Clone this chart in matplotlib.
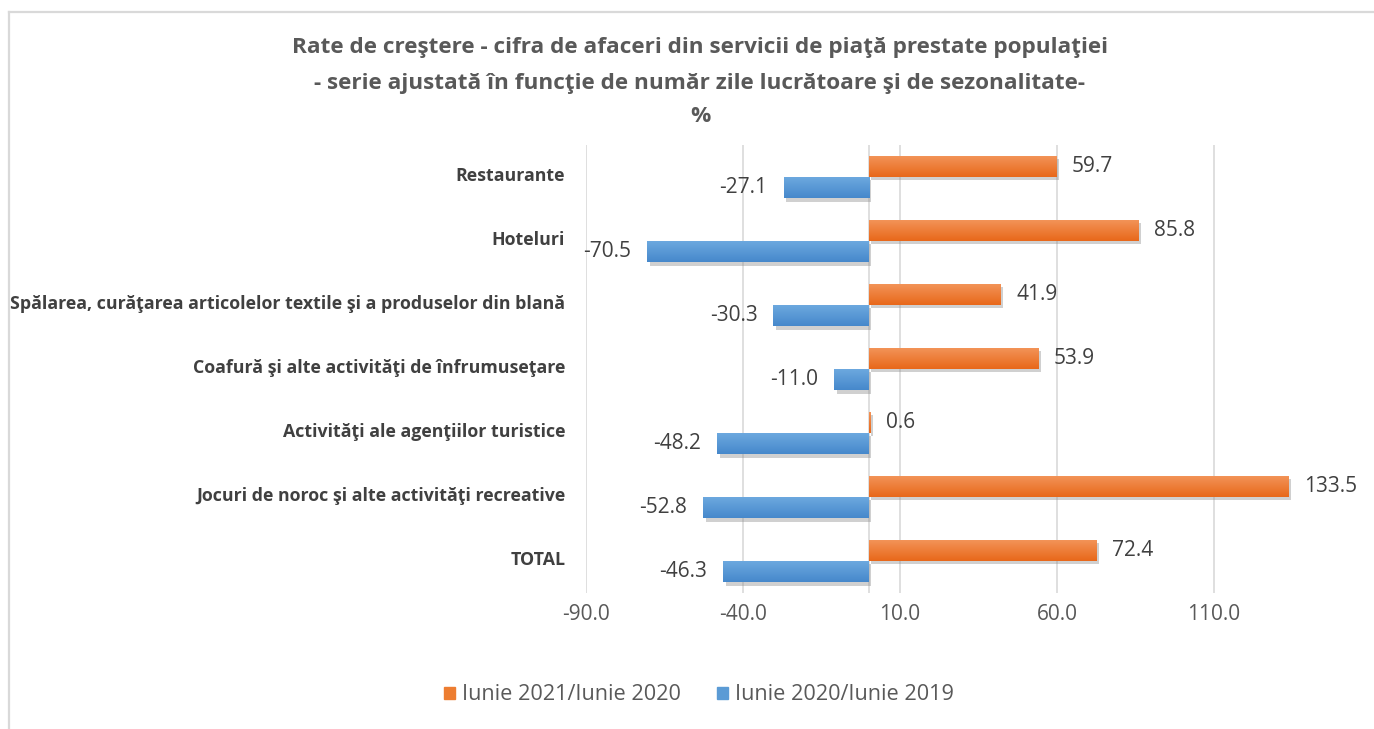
import matplotlib
matplotlib.use("Agg")
import matplotlib.pyplot as plt
import matplotlib.patheffects as pe
from matplotlib.lines import Line2D
from matplotlib.colors import LinearSegmentedColormap
import numpy as np

plt.rcParams['font.family'] = ['Open Sans', 'DejaVu Sans']

categories = [
    "Restaurante",
    "Hoteluri",
    "Spălarea, curăţarea articolelor textile şi a produselor din blană",
    "Coafură şi alte activităţi de înfrumuseţare",
    "Activităţi ale agenţiilor turistice",
    "Jocuri de noroc şi alte activităţi recreative",
    "TOTAL",
]
series_2021 = [59.7, 85.8, 41.9, 53.9, 0.6, 133.5, 72.4]
series_2020 = [-27.1, -70.5, -30.3, -11.0, -48.2, -52.8, -46.3]
legend_labels = ["Iunie 2021/Iunie 2020", "Iunie 2020/Iunie 2019"]
x_ticks = [-90.0, -40.0, 10.0, 60.0, 110.0]
title_lines = [
    "Rate de creştere - cifra de afaceri din servicii de piaţă prestate populaţiei",
    "- serie ajustată în funcţie de număr zile lucrătoare şi de sezonalitate-",
    "%",
]

W, H = 1374, 729
fig = plt.figure(figsize=(W / 100, H / 100), dpi=100)
fig.patch.set_facecolor("white")

ax_left, ax_right, ax_top, ax_bottom = 586, 1371, 145, 593
ax = fig.add_axes([ax_left / W, 1 - ax_bottom / H, (ax_right - ax_left) / W, (ax_bottom - ax_top) / H])

orange = "#ED7D31"
blue = "#5B9BD5"
orange_grad = LinearSegmentedColormap.from_list("og", ["#F3955A", "#E8681A"])
blue_grad = LinearSegmentedColormap.from_list("bg", ["#6EAAE0", "#4688CB"])

y = np.arange(len(categories))
h = 1 / 3.0
shadow = [pe.SimplePatchShadow(offset=(2.0, -2.5), shadow_rgbFace="#8a8a8a", alpha=0.4), pe.Normal()]

bars_o = ax.barh(y - h / 2, series_2021, height=h, color=orange, zorder=3, path_effects=shadow)
bars_b = ax.barh(y + h / 2, series_2020, height=h, color=blue, zorder=3, path_effects=shadow)

grad = np.linspace(0, 1, 64).reshape(-1, 1)
for bars, cmap in ((bars_o, orange_grad), (bars_b, blue_grad)):
    for b in bars:
        x0, y0, w_, h_ = b.get_x(), b.get_y(), b.get_width(), b.get_height()
        im = ax.imshow(grad, extent=(x0, x0 + w_, y0 + h_, y0), cmap=cmap, aspect="auto",
                       zorder=4, origin="upper", interpolation="bilinear")
        im.set_clip_path(b)

label_color = "#404040"
for b, v in zip(bars_o, series_2021):
    ax.annotate(f"{v:.1f}", xy=(b.get_x() + b.get_width(), b.get_y() + b.get_height() / 2),
                xytext=(11.5, 0), textcoords="offset points", ha="left", va="center",
                fontsize=15, color=label_color)
for b, v in zip(bars_b, series_2020):
    ax.annotate(f"{v:.1f}", xy=(b.get_x() + b.get_width(), b.get_y() + b.get_height() / 2),
                xytext=(-11.5, 0), textcoords="offset points", ha="right", va="center",
                fontsize=15, color=label_color)

ax.set_xlim(-90, 160)
ax.set_ylim(len(categories) - 0.5, -0.5)
ax.set_xticks(x_ticks)
ax.set_xticklabels([f"{t:.1f}" for t in x_ticks], fontsize=15, color="#595959")
ax.set_yticks(y - 0.05)
ax.set_yticklabels(categories, fontsize=12.75, fontweight="bold", color="#404040")
ax.tick_params(axis="both", length=0)
ax.tick_params(axis="x", pad=8)
ax.tick_params(axis="y", pad=15)
for s in ax.spines.values():
    s.set_visible(False)
ax.grid(axis="x", color="#D9D9D9", linewidth=1.2, zorder=0)
ax.set_axisbelow(True)
ax.axvline(0, color="#D9D9D9", linewidth=1.2, zorder=2)

# Titles
title_y = [48, 83, 116]
for t, ty in zip(title_lines, title_y):
    fig.text(700 / W, 1 - ty / H, t, ha="center", va="center", fontsize=16.2,
             fontweight="bold", color="#595959")

# Legend
handles = [plt.Rectangle((0, 0), 1, 1, color=orange), plt.Rectangle((0, 0), 1, 1, color=blue)]
fig.legend(handles, legend_labels, loc="center", bbox_to_anchor=(699 / W, 1 - 695 / H),
           ncol=2, frameon=False, fontsize=15.6, labelcolor="#595959",
           handlelength=0.5, handleheight=0.5, handletextpad=0.3, columnspacing=1.7)

# Chart frame border
fig.add_artist(Line2D([9 / W, 9 / W], [0, 1 - 12 / H], transform=fig.transFigure,
                      color="#D9D9D9", linewidth=1.6))
fig.add_artist(Line2D([9 / W, 1], [1 - 12 / H, 1 - 12 / H], transform=fig.transFigure,
                      color="#D9D9D9", linewidth=1.6))

fig.savefig("out.png", dpi=100)
